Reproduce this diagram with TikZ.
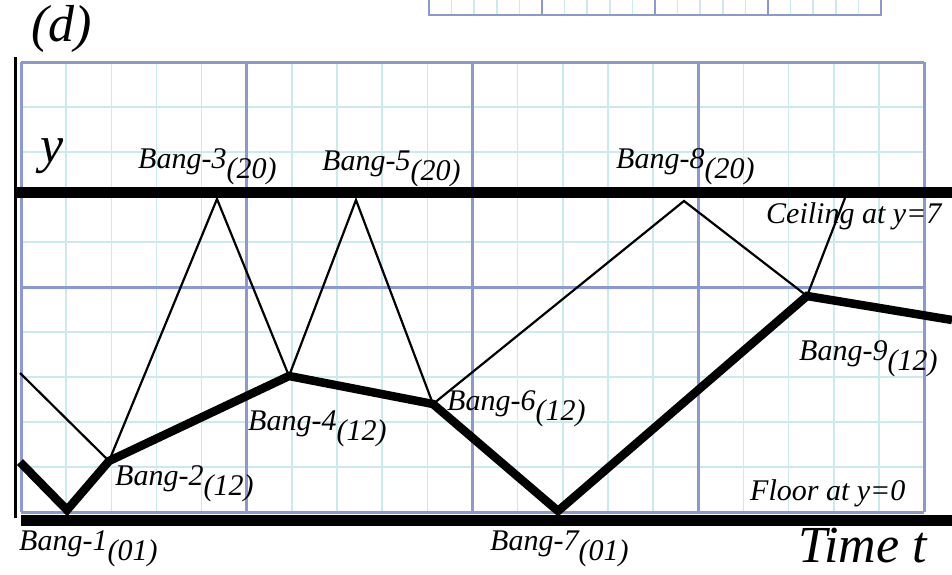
\documentclass[tikz,border=0pt]{standalone}
\usepackage{fontspec}
\setmainfont{Liberation Serif}
\usetikzlibrary{calc}
\definecolor{gridminor}{RGB}{204,234,236}
\definecolor{gridmajor}{RGB}{142,152,208}

\begin{document}
\begin{tikzpicture}[x=1pt,y=-1pt,
    lbl/.style={anchor=base west,inner sep=0pt,font=\fontsize{30}{34}\selectfont\itshape},
    big/.style={anchor=base west,inner sep=0pt,font=\fontsize{52}{56}\selectfont\itshape},
    minorln/.style={gridminor,line width=1.6pt},
    majorln/.style={gridmajor,line width=3pt},
    wall/.style={line width=11pt},
    leg/.style={line width=2.2pt},
    track/.style={line width=8.5pt}]
    \useasboundingbox (0,0) rectangle (952,574);
    \foreach \i in {0,...,20}
      \draw[minorln] ({429+22.6*\i},0) -- ({429+22.6*\i},15);
    \foreach \i in {0,5,10,15,20}
      \draw[majorln,line width=2pt] ({429+22.6*\i},0) -- ({429+22.6*\i},15);
    \draw[majorln,line width=2pt] (428,15) -- (882,15);
    \foreach \i in {0,...,20}
      \draw[minorln] ({21+45.15*\i},62) -- ({21+45.15*\i},512);
    \foreach \j in {0,...,10}
      \draw[minorln] (21,{62+45*\j}) -- (924,{62+45*\j});
    \foreach \i in {0,5,10,15,20}
      \draw[majorln] ({21+45.15*\i},62) -- ({21+45.15*\i},512);
    \foreach \j in {0,5,10}
      \draw[majorln] (21,{62+45*\j}) -- (924,{62+45*\j});
    \draw[line width=3pt] (15,57) -- (15,518);
    \draw[wall] (16,192.5) -- (952,192.5);
    \draw[wall] (21,520.5) -- (952,520.5);
    \coordinate (s0) at (20,462);
    \coordinate (t0) at (20,373);
    \coordinate (b1) at (67,510);
    \coordinate (b2) at (109,461);
    \coordinate (b3) at (217,199);
    \coordinate (b4) at (289,376);
    \coordinate (b5) at (356,200);
    \coordinate (b6) at (433,404);
    \coordinate (b7) at (558,511);
    \coordinate (b8) at (684,201);
    \coordinate (b9) at (807,296);
    \coordinate (c0) at (845,198);
    \coordinate (e0) at (952,320);
    \draw[leg] (t0) -- (b2) -- (b3) -- (b4) -- (b5) -- (b6) -- (b8) -- (b9) -- (c0);
    \draw[track] (s0) -- (b1) -- (b2) -- (b4) -- (b6) -- (b7) -- (b9) -- (e0);
    \foreach \n/\x/\y/\sub in {
      1/19/550/01, 2/115/485/12, 3/138/168/20, 4/248/430/12, 5/322/170/20,
      6/447/410/12, 7/490/550/01, 8/616/168/20, 9/799/360/12}{
      \node[lbl] (l\n) at (\x,\y) {Bang-\n\raisebox{-10pt}{(\sub)}};
    }
    \node[lbl] (ceil) at (766,223) {Ceiling at y=7};
    \node[lbl] (floor) at (750,500) {Floor at y=0};
    \node[big] (tlbl) at (798,562) {Time t};
    \node[big] (ylbl) at (40,162) {y};
    \node[big] (dlbl) at (31,41) {(d)};
\end{tikzpicture}
\end{document}
